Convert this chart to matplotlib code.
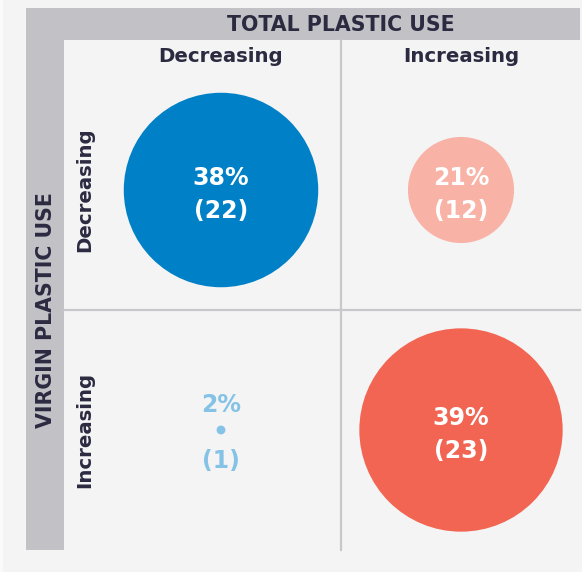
import matplotlib.pyplot as plt
from matplotlib.patches import Rectangle, Circle

# data
col_labels = ["Decreasing", "Increasing"]      # total plastic use
row_labels = ["Decreasing", "Increasing"]      # virgin plastic use
counts = [[22, 12],
          [1, 23]]
shares = [[38, 21],
          [2, 39]]
colors = [["#0080c6", "#f8b2a6"],
          ["#85c3e6", "#f26552"]]

dark = "#2b2a40"
band = "#c2c1c6"
bg = "#f4f4f4"
grid = "#c8c7cc"

W, H = 582, 572
fig = plt.figure(figsize=(W / 100, H / 100), dpi=100)
fig.patch.set_facecolor(bg)
ax = fig.add_axes([0, 0, 1, 1])
ax.set_facecolor(bg)

# one data unit = 240 px, column 0 centred at px 221, row 0 at px 190
U = 240.0
def px_x(p):
    return (p - 221) / U
def px_y(p):
    return (p - 190) / U

ax.set_xlim(px_x(0), px_x(W))
ax.set_ylim(px_y(H), px_y(0))
ax.set_aspect("equal")
ax.axis("off")

plt.rcParams['font.family'] = ['DejaVu Sans']
fw = "bold"

# thin lighter strip on the left edge
ax.add_patch(Rectangle((px_x(0), px_y(0)), 3 / U, H / U, color="#fafafa", lw=0))

# gray L-shaped band
ax.add_patch(Rectangle((px_x(26), px_y(8)), (580 - 26) / U, 32 / U, color=band, lw=0))
ax.add_patch(Rectangle((px_x(26), px_y(8)), 38 / U, (550 - 8) / U, color=band, lw=0))
ax.text(0.5, px_y(25), "TOTAL PLASTIC USE", ha="center", va="center",
        fontsize=14.8, fontweight=fw, color=dark)
ax.text(px_x(46), 0.5, "VIRGIN PLASTIC USE", ha="center", va="center",
        rotation=90, fontsize=14.8, fontweight=fw, color=dark)

# quadrant lines
ax.plot([0.5, 0.5], [px_y(40), px_y(550)], color=grid, lw=1.6)
ax.plot([px_x(64), px_x(580)], [0.5, 0.5], color=grid, lw=1.6)

# headers
for i, lab in enumerate(col_labels):
    ax.text(i, px_y(56), lab, ha="center", va="center",
            fontsize=14.2, fontweight=fw, color=dark)
for j, lab in enumerate(row_labels):
    ax.text(px_x(85), j, lab, ha="center", va="center", rotation=90,
            fontsize=14.2, fontweight=fw, color=dark)

# circles, radius proportional to count
k = 4.42 / U
for j in range(2):
    for i in range(2):
        c = counts[j][i]
        ax.add_patch(Circle((i, j), c * k, color=colors[j][i], lw=0))
        if c > 3:
            ax.text(i, j - 12 / U, f"{shares[j][i]}%", ha="center", va="center",
                    fontsize=17, fontweight=fw, color="white")
            ax.text(i, j + 21 / U, f"({c})", ha="center", va="center",
                    fontsize=17, fontweight=fw, color="white")
        else:
            ax.text(i, j - 25 / U, f"{shares[j][i]}%", ha="center", va="center",
                    fontsize=17, fontweight=fw, color=colors[j][i])
            ax.text(i, j + 31 / U, f"({c})", ha="center", va="center",
                    fontsize=17, fontweight=fw, color=colors[j][i])

fig.savefig("out.png", dpi=100, facecolor=bg)
